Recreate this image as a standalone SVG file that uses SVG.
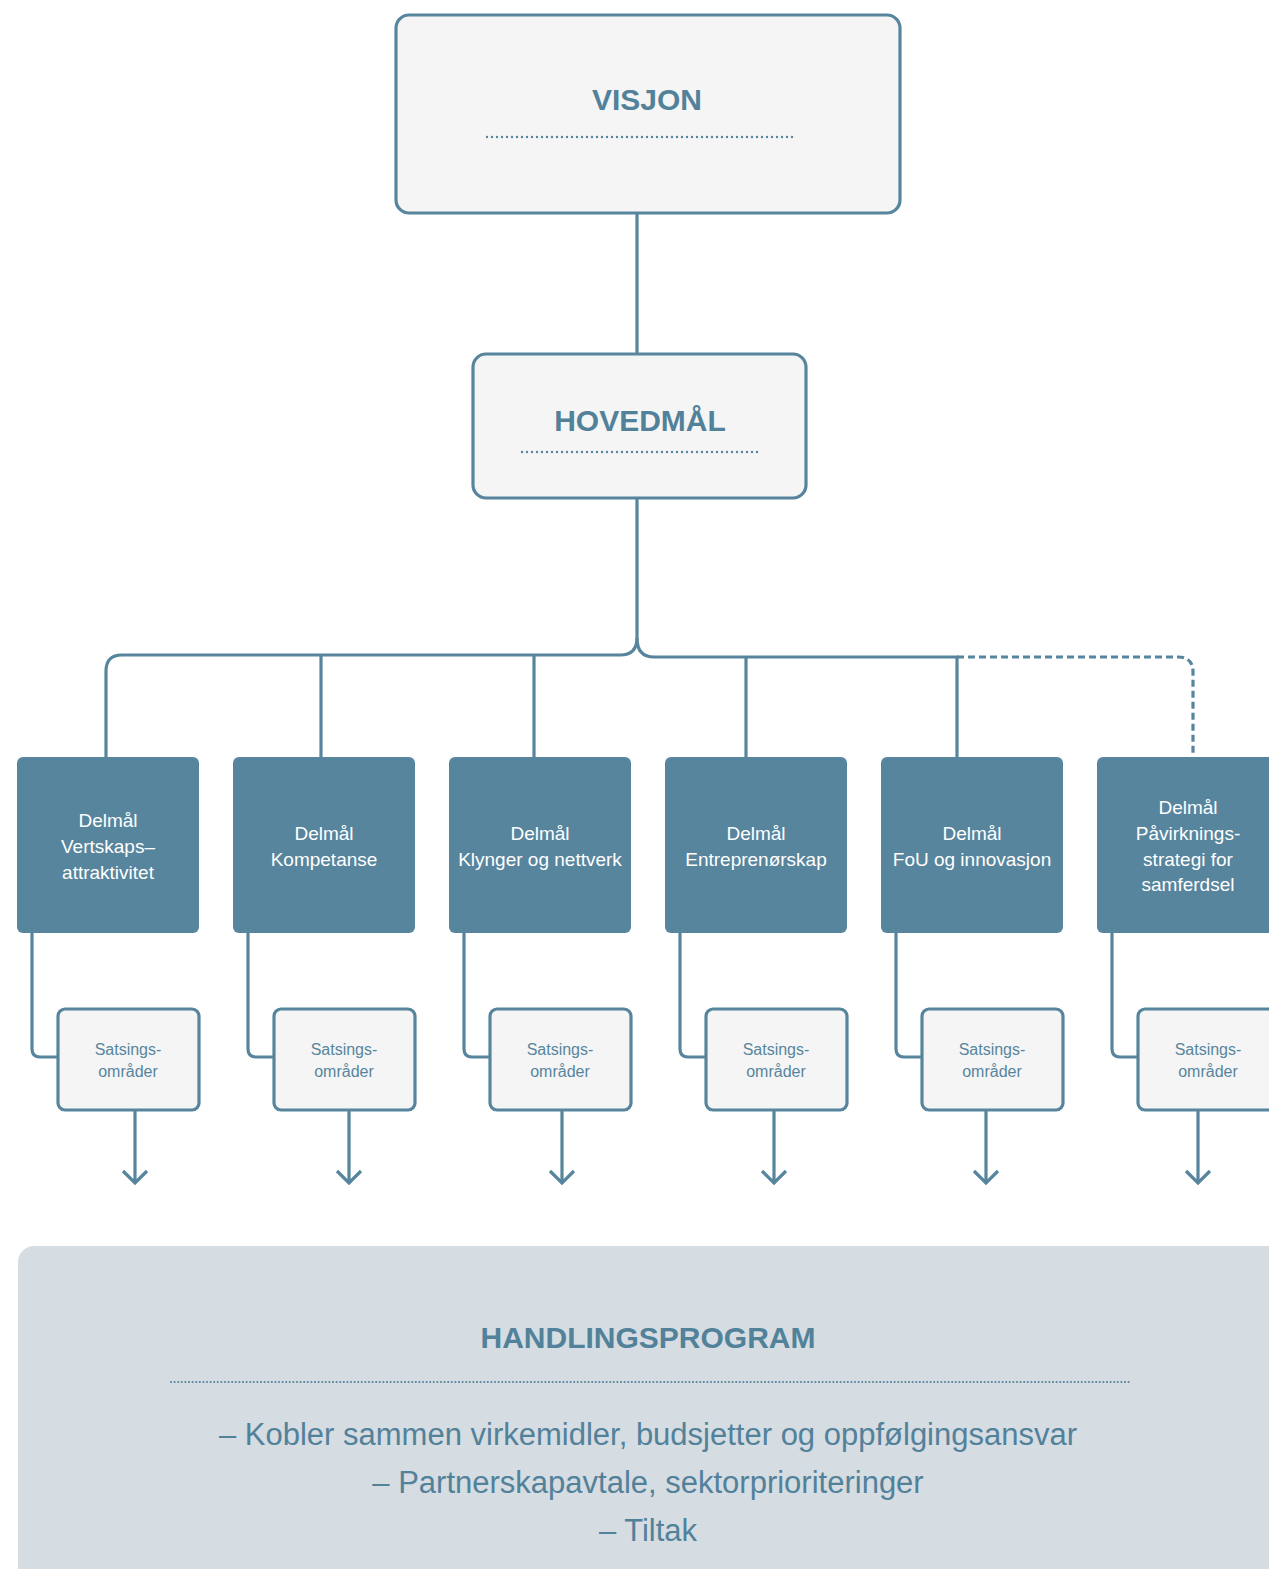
<svg xmlns="http://www.w3.org/2000/svg" width="1269" height="1569" viewBox="0 0 1269 1569">
<style>
.box{fill:#f5f5f5;stroke:#57859d;stroke-width:3.2}
.del{fill:#57859d}
.ln{fill:none;stroke:#57859d;stroke-width:3.2}
.dash{fill:none;stroke:#57859d;stroke-width:3.2;stroke-dasharray:7 4}
.dot{fill:none;stroke:#57859d;stroke-width:2.4;stroke-linecap:round;stroke-dasharray:0 5}
.dot2{fill:none;stroke:#57859d;stroke-width:2.2;stroke-linecap:round;stroke-dasharray:0 3.6}
.title{font-family:"Liberation Sans",Arial,sans-serif;font-weight:bold;font-size:30px;fill:#52819a;text-anchor:middle}
.dt{font-family:"Liberation Sans",Arial,sans-serif;font-size:19px;fill:#ffffff;text-anchor:middle}
.st{font-family:"Liberation Sans",Arial,sans-serif;font-size:16px;fill:#57859d;text-anchor:middle}
.body{font-family:"Liberation Sans",Arial,sans-serif;font-size:31px;fill:#52819a;text-anchor:middle}
</style>
<rect width="1269" height="1569" fill="#ffffff"/>
<g id="connectors">
<path class="ln" d="M637,213 V353"/>
<path class="ln" d="M637,498 V638 Q637,655 620,655 H122 Q106,655 106,671 V757"/>
<path class="ln" d="M637,638 Q637,657 654,657 H957 V757"/>
<path class="ln" d="M321,655 V757"/>
<path class="ln" d="M534,655 V757"/>
<path class="ln" d="M746,657 V757"/>
<path class="dash" d="M957,657 H1178 Q1193,657 1193,672 V755"/>
<path class="ln" d="M32,933 V1049 Q32,1057 40,1057 H58"/>
<path class="ln" d="M248,933 V1049 Q248,1057 256,1057 H274"/>
<path class="ln" d="M464,933 V1049 Q464,1057 472,1057 H490"/>
<path class="ln" d="M680,933 V1049 Q680,1057 688,1057 H706"/>
<path class="ln" d="M896,933 V1049 Q896,1057 904,1057 H922"/>
<path class="ln" d="M1112,933 V1049 Q1112,1057 1120,1057 H1138"/>
<path class="ln" d="M135,1111 V1183 M123,1171 L135,1183 L147,1171"/>
<path class="ln" d="M349,1111 V1183 M337,1171 L349,1183 L361,1171"/>
<path class="ln" d="M562,1111 V1183 M550,1171 L562,1183 L574,1171"/>
<path class="ln" d="M774,1111 V1183 M762,1171 L774,1183 L786,1171"/>
<path class="ln" d="M986,1111 V1183 M974,1171 L986,1183 L998,1171"/>
<path class="ln" d="M1198,1111 V1183 M1186,1171 L1198,1183 L1210,1171"/>
</g>
<g id="visjon">
<rect class="box" x="396" y="15" width="504" height="198" rx="13"/>
<text class="title" x="647" y="110">VISJON</text>
<path class="dot" d="M487,137 H797"/>
</g>
<g id="hovedmal">
<rect class="box" x="473" y="354" width="333" height="144" rx="13"/>
<text class="title" x="640" y="431">HOVEDMÅL</text>
<path class="dot" d="M522,452 H759"/>
</g>
<g id="delmal1">
<rect class="del" x="17" y="757" width="182" height="176" rx="6"/>
<text class="dt" x="108" y="827">Delmål</text>
<text class="dt" x="108" y="853">Vertskaps–</text>
<text class="dt" x="108" y="879">attraktivitet</text>
</g>
<g id="delmal2">
<rect class="del" x="233" y="757" width="182" height="176" rx="6"/>
<text class="dt" x="324" y="840">Delmål</text>
<text class="dt" x="324" y="866">Kompetanse</text>
</g>
<g id="delmal3">
<rect class="del" x="449" y="757" width="182" height="176" rx="6"/>
<text class="dt" x="540" y="840">Delmål</text>
<text class="dt" x="540" y="866">Klynger og nettverk</text>
</g>
<g id="delmal4">
<rect class="del" x="665" y="757" width="182" height="176" rx="6"/>
<text class="dt" x="756" y="840">Delmål</text>
<text class="dt" x="756" y="866">Entreprenørskap</text>
</g>
<g id="delmal5">
<rect class="del" x="881" y="757" width="182" height="176" rx="6"/>
<text class="dt" x="972" y="840">Delmål</text>
<text class="dt" x="972" y="866">FoU og innovasjon</text>
</g>
<g id="delmal6">
<rect class="del" x="1097" y="757" width="182" height="176" rx="6"/>
<text class="dt" x="1188" y="814">Delmål</text>
<text class="dt" x="1188" y="840">Påvirknings-</text>
<text class="dt" x="1188" y="866">strategi for</text>
<text class="dt" x="1188" y="891">samferdsel</text>
</g>
<g id="sats1">
<rect class="box" x="58" y="1009" width="141" height="101" rx="7"/>
<text class="st" x="128" y="1055">Satsings-</text>
<text class="st" x="128" y="1077">områder</text>
</g>
<g id="sats2">
<rect class="box" x="274" y="1009" width="141" height="101" rx="7"/>
<text class="st" x="344" y="1055">Satsings-</text>
<text class="st" x="344" y="1077">områder</text>
</g>
<g id="sats3">
<rect class="box" x="490" y="1009" width="141" height="101" rx="7"/>
<text class="st" x="560" y="1055">Satsings-</text>
<text class="st" x="560" y="1077">områder</text>
</g>
<g id="sats4">
<rect class="box" x="706" y="1009" width="141" height="101" rx="7"/>
<text class="st" x="776" y="1055">Satsings-</text>
<text class="st" x="776" y="1077">områder</text>
</g>
<g id="sats5">
<rect class="box" x="922" y="1009" width="141" height="101" rx="7"/>
<text class="st" x="992" y="1055">Satsings-</text>
<text class="st" x="992" y="1077">områder</text>
</g>
<g id="sats6">
<rect class="box" x="1138" y="1009" width="141" height="101" rx="7"/>
<text class="st" x="1208" y="1055">Satsings-</text>
<text class="st" x="1208" y="1077">områder</text>
</g>
<g id="handlingsprogram">
<rect x="18" y="1246" width="1280" height="350" rx="16" fill="#d5dce2"/>
<text class="title" x="648" y="1348">HANDLINGSPROGRAM</text>
<path class="dot2" d="M171,1382 H1129"/>
<text class="body" x="648" y="1445">– Kobler sammen virkemidler, budsjetter og oppfølgingsansvar</text>
<text class="body" x="648" y="1493">– Partnerskapavtale, sektorprioriteringer</text>
<text class="body" x="648" y="1541">– Tiltak</text>
</g>
</svg>
